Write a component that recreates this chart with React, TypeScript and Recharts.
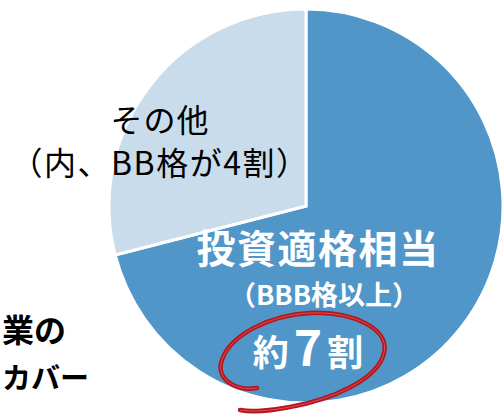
import { PieChart, Pie, Cell } from 'recharts';

const categories = ['投資適格相当', 'その他'];
const shares = [71, 29];
const sliceColors = ['#5096c8', '#c9dcec'];

const data = categories.map((name, i) => ({ name, value: shares[i] }));

const jp = '"Noto Sans CJK JP", "Noto Sans", sans-serif';

const loopPath =
  'M 257 388 C 235 392, 215 378, 222 360 C 230 335, 270 315, 310 313 C 355 311, 390 330, 384 353 C 378 380, 330 400, 290 407 C 270 411, 250 412, 240 410';

export default function App() {
  return (
    <div style={{ position: 'absolute', left: 0, top: 0, width: 502, height: 418, background: '#fff' }}>
      <PieChart width={502} height={418}>
        <Pie
          data={data}
          dataKey="value"
          nameKey="name"
          cx={301}
          cy={201}
          outerRadius={197}
          startAngle={90}
          endAngle={-270}
          stroke="#fff"
          strokeWidth={3}
          isAnimationActive={false}
        >
          {data.map((d, i) => (
            <Cell key={d.name} fill={sliceColors[i]} />
          ))}
        </Pie>
      </PieChart>

      <svg
        width={502}
        height={418}
        style={{ position: 'absolute', left: 0, top: 0, pointerEvents: 'none' }}
        fontFamily={jp}
      >
        <text x={160} y={132} textAnchor="middle" fontSize={32} fill="#000" letterSpacing={1}>
          その他
        </text>
        <text x={160} y={175} textAnchor="middle" fontSize={32} fill="#000" letterSpacing={1.5}>
          （内、BB格が4割）
        </text>

        <text x={318} y={263} textAnchor="middle" fontSize={39} fontWeight={700} fill="#fff" letterSpacing={1.5}>
          {categories[0]}
        </text>
        <text x={324} y={305} textAnchor="middle" fontSize={27} fontWeight={700} fill="#fff">
          （BBB格以上）
        </text>
        <text x={308} y={366} textAnchor="middle" fill="#fff" fontWeight={700}>
          <tspan fontSize={36}>約</tspan>
          <tspan fontSize={48} dx={5}>7</tspan>
          <tspan fontSize={36} dx={5}>割</tspan>
        </text>

        <path d={loopPath} fill="none" stroke="#b8141c" strokeWidth={4.5} strokeLinecap="round" />
        <path d={loopPath} fill="none" stroke="#e07a7e" strokeWidth={1} strokeOpacity={0.6} strokeLinecap="round" />

        <text x={66} y={342} textAnchor="end" fontSize={32} fontWeight={700} fill="#000">
          業の
        </text>
        <text x={2} y={389} textAnchor="start" fontSize={29} fontWeight={700} fill="#000">
          カバー
        </text>
      </svg>
    </div>
  );
}
